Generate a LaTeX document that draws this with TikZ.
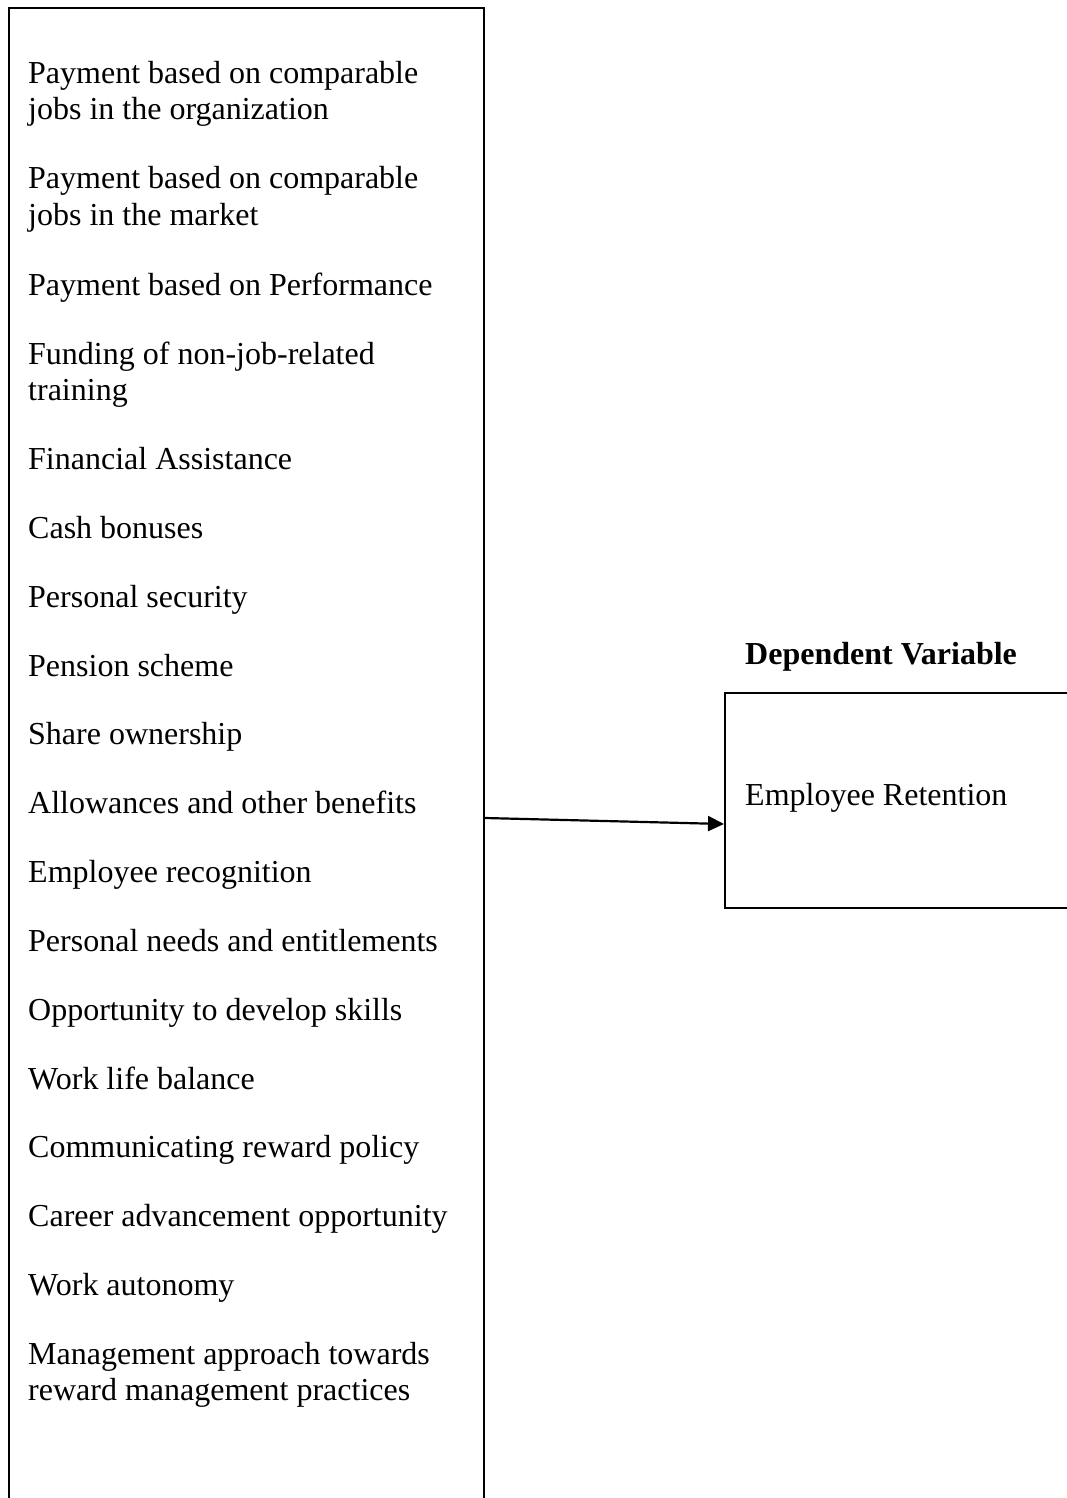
\documentclass[tikz,border=0pt]{standalone}
\usepackage{fontspec}
\setmainfont{Liberation Serif}
\usetikzlibrary{arrows.meta}
\begin{document}
\begin{tikzpicture}[x=1pt,y=-1pt,
  boxline/.style={draw=black, line width=2pt},
  item/.style={anchor=base west, inner sep=0pt, align=left,
    font=\fontsize{32pt}{36pt}\selectfont},
  head/.style={anchor=base west, inner sep=0pt,
    font=\fontsize{32pt}{36pt}\selectfont\bfseries}]
\useasboundingbox (0,0) rectangle (1067,1498);
\clip (0,0) rectangle (1067,1498);
\node (iv) [boxline, anchor=north west, minimum width=475pt, minimum height=1530pt, inner sep=0pt] at (8,7) {};
\node (dv) [boxline, anchor=north west, minimum width=400pt, minimum height=215pt, inner sep=0pt] at (724,692) {};
\node (i1) [item] at (28,120) {Payment based on comparable\\jobs in the organization};
\node (i2) [item] at (28,225) {Payment based on comparable\\jobs in the market};
\node (i3) [item] at (28,295) {Payment based on Performance};
\node (i4) [item] at (28,400) {Funding of non-job-related\\training};
\node (i5) [item] at (28,469) {Financial Assistance};
\node (i6) [item] at (28,538) {Cash bonuses};
\node (i7) [item] at (28,607) {Personal security};
\node (i8) [item] at (28,676) {Pension scheme};
\node (i9) [item] at (28,744) {Share ownership};
\node (i10) [item] at (28,813) {Allowances and other benefits};
\node (i11) [item] at (28,882) {Employee recognition};
\node (i12) [item] at (28,951) {Personal needs and entitlements};
\node (i13) [item] at (28,1020) {Opportunity to develop skills};
\node (i14) [item] at (28,1089) {Work life balance};
\node (i15) [item] at (28,1157) {Communicating reward policy};
\node (i16) [item] at (28,1226) {Career advancement opportunity};
\node (i17) [item] at (28,1295) {Work autonomy};
\node (i18) [item] at (28,1400) {Management approach towards\\reward management practices};
\node (dvhead) [head] at (745,664) {Dependent Variable};
\node (dvtext) [item] at (745,805) {Employee Retention};
\coordinate (s) at (0,818);
\coordinate (e) at (0,824);
\draw[line width=2.2pt, -{Triangle[length=16pt,width=15pt]}] (iv.east |- s) -- (dv.west |- e);
\end{tikzpicture}
\end{document}
